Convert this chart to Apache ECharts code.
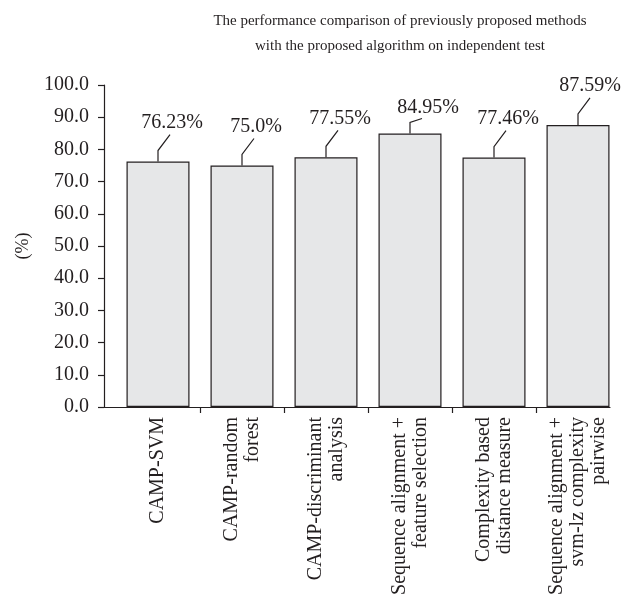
<!DOCTYPE html>
<html>
<head>
    <meta charset="utf-8">
    <script src="https://cdn.jsdelivr.net/npm/echarts@6/dist/echarts.min.js"></script>
</head>
<body style="margin:0;background:#fff;">
<div id="main" style="width: 628px;height:606px;"></div>
<script type="text/javascript">

var categories = [
    'CAMP-SVM',
    'CAMP-random\nforest',
    'CAMP-discriminant\nanalysis',
    'Sequence alignment +\nfeature selection',
    'Complexity based\ndistance measure',
    'Sequence alignment +\nsvm-lz complexity\npairwise'
];
var values = [76.23, 75.0, 77.55, 84.95, 77.46, 87.59];
var labelTexts = ['76.23%', '75.0%', '77.55%', '84.95%', '77.46%', '87.59%'];

// leader line: goes up from the bar top, then bends to the label
var leaderBend = [[12, 27], [12, 27], [12, 27], [12, 15], [12, 27], [12, 27]];
var labelOffset = [[14, 39], [14, 39], [14, 39], [18, 26], [14, 39], [12, 39]];

var ink = '#231f20';
var serif = '"Liberation Serif", "DejaVu Serif", serif';

var myChart = echarts.init(document.getElementById('main'));

var option = {
    animation: false,
    title: {
        text: 'The performance comparison of previously proposed methods\nwith the proposed algorithm on independent test',
        left: 395,
        top: 4,
        textAlign: 'center',
        textStyle: {
            fontFamily: serif,
            fontSize: 15,
            fontWeight: 'normal',
            color: ink,
            lineHeight: 25
        }
    },
    grid: [
        {left: 116, right: 8, top: 85, bottom: 199},
        {left: 104, right: 18, top: 85, bottom: 199},
        {left: 200, right: 92, top: 85, bottom: 199}
    ],
    xAxis: [
        {
            type: 'category',
            data: categories,
            gridIndex: 0,
            axisLine: {show: false},
            axisTick: {show: false},
            axisLabel: {
                rotate: 90,
                interval: 0,
                margin: 10,
                fontFamily: serif,
                fontSize: 20,
                lineHeight: 21,
                color: ink
            }
        },
        {
            // the long baseline
            type: 'value',
            gridIndex: 1,
            min: 0,
            max: 1,
            axisLine: {show: true, lineStyle: {color: ink, width: 1.2}},
            axisTick: {show: false},
            axisLabel: {show: false},
            splitLine: {show: false}
        },
        {
            // separators between the categories
            type: 'value',
            gridIndex: 2,
            min: 0,
            max: 4,
            interval: 1,
            axisLine: {show: false},
            axisTick: {show: true, length: 6, lineStyle: {color: ink, width: 1.2}},
            axisLabel: {show: false},
            splitLine: {show: false}
        }
    ],
    yAxis: [
        {
            type: 'value',
            gridIndex: 0,
            min: 0,
            max: 100,
            interval: 10,
            offset: 12,
            name: '(%)',
            nameLocation: 'middle',
            nameGap: 72,
            nameRotate: 90,
            nameTextStyle: {fontFamily: serif, fontSize: 18, color: ink},
            axisLine: {show: true, lineStyle: {color: ink, width: 1.2}},
            axisTick: {show: true, length: 6, lineStyle: {color: ink, width: 1.2}},
            axisLabel: {
                fontFamily: serif,
                fontSize: 20,
                color: ink,
                margin: 15,
                formatter: function (v) { return v.toFixed(1); }
            },
            splitLine: {show: false}
        },
        {type: 'value', gridIndex: 1, show: false},
        {type: 'value', gridIndex: 2, show: false}
    ],
    series: [
        {
            type: 'bar',
            xAxisIndex: 0,
            yAxisIndex: 0,
            barWidth: '75%',
            data: values,
            itemStyle: {
                color: '#e6e7e8',
                borderColor: ink,
                borderWidth: 1.2
            }
        },
        {
            type: 'custom',
            xAxisIndex: 0,
            yAxisIndex: 0,
            data: values.map(function (v, i) { return [i, v]; }),
            z: 5,
            renderItem: function (params, api) {
                var i = params.dataIndex;
                var top = api.coord([api.value(0), api.value(1)]);
                var b = leaderBend[i];
                var o = labelOffset[i];
                return {
                    type: 'group',
                    children: [
                        {
                            type: 'polyline',
                            shape: {
                                points: [
                                    [top[0], top[1]],
                                    [top[0], top[1] - 11],
                                    [top[0] + b[0], top[1] - b[1]]
                                ]
                            },
                            style: {stroke: ink, lineWidth: 1.2, fill: null}
                        },
                        {
                            type: 'text',
                            x: top[0] + o[0],
                            y: top[1] - o[1],
                            style: {
                                text: labelTexts[i],
                                fontFamily: serif,
                                fontSize: 20,
                                fill: ink,
                                align: 'center',
                                verticalAlign: 'middle'
                            }
                        }
                    ]
                };
            }
        }
    ]
};

myChart.setOption(option);

</script>
</body>
</html>
